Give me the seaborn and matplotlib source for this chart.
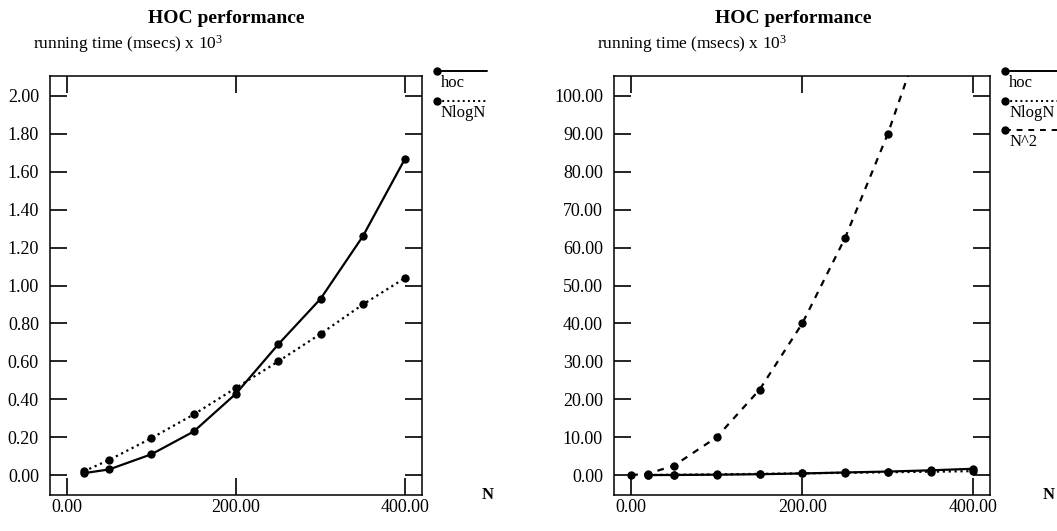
import numpy as np
import pandas as pd
import seaborn as sns
import matplotlib.pyplot as plt

# valeurs (temps en msecs x 10^3)
n_vals = [20, 50, 100, 150, 200, 250, 300, 350, 400]
hoc = [0.01, 0.03, 0.11, 0.23, 0.43, 0.69, 0.93, 1.26, 1.67]
nlogn = [0.02, 0.08, 0.195, 0.32, 0.46, 0.60, 0.745, 0.90, 1.04]
n_sq_vals = [0, 20, 50, 100, 150, 200, 250, 300, 350, 400]
n_sq = [0.0, 0.4, 2.5, 10.0, 22.5, 40.0, 62.5, 90.0, 122.5, 160.0]

x_ticks = [0, 200, 400]
left_yticks = [0.0, 0.2, 0.4, 0.6, 0.8, 1.0, 1.2, 1.4, 1.6, 1.8, 2.0]
right_yticks = [0, 10, 20, 30, 40, 50, 60, 70, 80, 90, 100]

sns.set_theme(style='ticks')
plt.rcParams['font.family'] = ['Liberation Serif', 'DejaVu Serif']
plt.rcParams['mathtext.fontset'] = 'stix'
plt.rcParams['text.color'] = 'black'

fig = plt.figure(figsize=(10.57, 5.31), dpi=100)
ax1 = fig.add_axes([0.0473, 0.0678, 0.352, 0.789])
ax2 = fig.add_axes([0.581, 0.0678, 0.356, 0.789])


def draw_series(ax, x, y, ls):
    sns.lineplot(x=x, y=y, ax=ax, color='black', linestyle=ls, linewidth=1.6,
                 marker='o', markersize=6, markeredgewidth=0)


def legend_entry(ax, ypos, label, ls, x_end):
    ax.plot([1.04, x_end], [ypos, ypos], transform=ax.transAxes, clip_on=False,
            color='black', linestyle=ls, linewidth=1.4)
    ax.plot([1.04], [ypos], transform=ax.transAxes, clip_on=False,
            color='black', marker='o', markersize=5)
    ax.text(1.05, ypos - 0.028, label, transform=ax.transAxes, fontsize=12,
            ha='left', va='center', color='black')


def style_axes(ax, yticks, ylim, n_x):
    ax.set_xlim(-20, 420)
    ax.set_ylim(*ylim)
    ax.set_xticks(x_ticks)
    ax.set_xticklabels(['%.2f' % v for v in x_ticks])
    ax.set_yticks(yticks)
    ax.set_yticklabels(['%.2f' % v for v in yticks])
    ax.tick_params(direction='in', length=12, width=1.2, top=True, right=True,
                   labelsize=13, pad=8, colors='black')
    ax.tick_params(axis='x', pad=3)
    for s in ax.spines.values():
        s.set_visible(True)
        s.set_linewidth(1.1)
        s.set_color('black')
    ax.set_xlabel('')
    ax.set_ylabel('')
    ax.text(0.475, 1.138, 'HOC performance', transform=ax.transAxes,
            fontsize=14, fontweight='bold', ha='center', va='center')
    ax.text(-0.045, 1.077, r'running time (msecs) x $\mathregular{10^3}$',
            transform=ax.transAxes, fontsize=12.5, ha='left', va='center')
    ax.text(n_x, 0.0, 'N', transform=ax.transAxes, fontsize=12,
            fontweight='bold', ha='center', va='center')


# panneau gauche
draw_series(ax1, n_vals, hoc, '-')
draw_series(ax1, n_vals, nlogn, ':')
style_axes(ax1, left_yticks, (-0.105, 2.105), 1.175)
legend_entry(ax1, 1.012, 'hoc', '-', 1.175)
legend_entry(ax1, 0.940, 'NlogN', ':', 1.175)

# panneau droit
draw_series(ax2, n_vals, hoc, '-')
draw_series(ax2, n_vals, nlogn, ':')
draw_series(ax2, n_sq_vals, n_sq, (0, (3, 3)))
style_axes(ax2, right_yticks, (-5.25, 105.25), 1.155)
legend_entry(ax2, 1.012, 'hoc', '-', 1.2)
legend_entry(ax2, 0.940, 'NlogN', ':', 1.2)
legend_entry(ax2, 0.871, 'N^2', (0, (3, 3)), 1.2)

plt.savefig('out.png', dpi=100)
